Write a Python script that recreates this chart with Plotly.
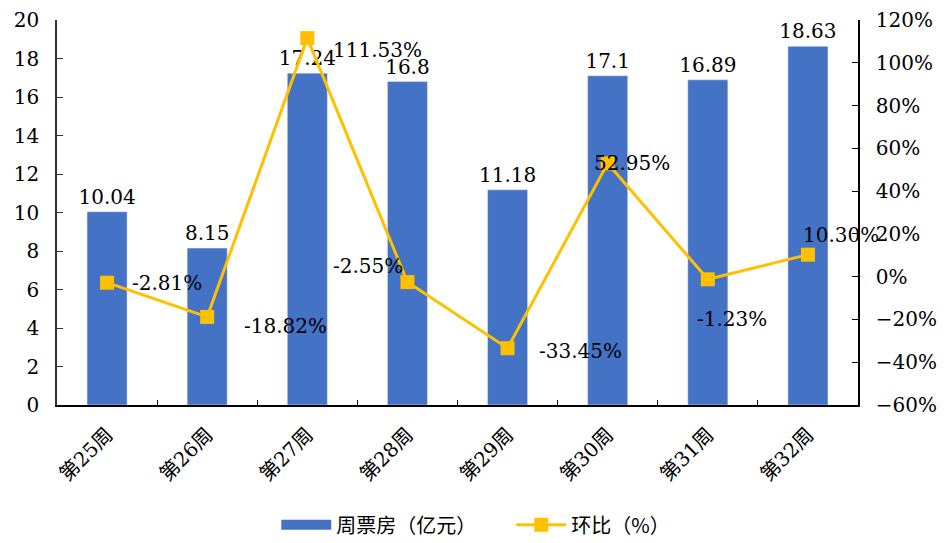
import plotly.graph_objects as go

weeks = ["第25周", "第26周", "第27周", "第28周", "第29周", "第30周", "第31周", "第32周"]
box_office = [10.04, 8.15, 17.24, 16.8, 11.18, 17.1, 16.89, 18.63]
box_labels = ["10.04", "8.15", "17.24", "16.8", "11.18", "17.1", "16.89", "18.63"]
mom = [-2.81, -18.82, 111.53, -2.55, -33.45, 52.95, -1.23, 10.30]
mom_labels = ["-2.81%", "-18.82%", "111.53%", "-2.55%", "-33.45%", "52.95%", "-1.23%", "10.30%"]
label_shift_x = [60, 78, 70, -39, 73, 24, 24, 33]
label_shift_y = [0, -9, -12, 16, -3, 0, -40, 20]

FONT = "DejaVu Serif, Noto Sans CJK SC"
BAR_COLOR = "#4472C4"
LINE_COLOR = "#FFC000"

fig = go.Figure()
fig.add_trace(go.Bar(
    x=weeks, y=box_office, name="周票房（亿元）", showlegend=False,
    legendgroup="bar",
    marker_color=BAR_COLOR, text=box_labels, textposition="outside",
    textfont=dict(size=20, color="#000", family=FONT), cliponaxis=False,
    constraintext="none",
))
# legend entry for the bars (wide rectangle symbol)
fig.add_trace(go.Scatter(
    x=[None], y=[None], name="周票房（亿元）", mode="lines", legendgroup="bar",
    line=dict(color=BAR_COLOR, width=11),
))
fig.add_trace(go.Scatter(
    x=weeks, y=mom, name="环比（%）", yaxis="y2", mode="lines+markers",
    line=dict(color=LINE_COLOR, width=3),
    marker=dict(symbol="square", size=14, color=LINE_COLOR),
))
for w, v, t, dx, dy in zip(weeks, mom, mom_labels, label_shift_x, label_shift_y):
    fig.add_annotation(x=w, y=v, yref="y2", text=t, showarrow=False,
                       xshift=dx, yshift=dy,
                       font=dict(size=20, color="#000", family=FONT))

fig.update_layout(
    width=938, height=535,
    margin=dict(l=49, r=88, t=12, b=138),
    plot_bgcolor="white", paper_bgcolor="white",
    bargap=0.6,
    font=dict(family=FONT, color="#000"),
    showlegend=True,
    legend=dict(orientation="h", xref="container", yref="container",
                x=0.286, xanchor="left", y=0.034, yanchor="middle",
                font=dict(size=20, family="Noto Sans CJK SC"), itemwidth=50,
                entrywidth=170, entrywidthmode="pixels",
                traceorder="normal"),
    xaxis=dict(range=[-0.5, 7.5], showline=True, linecolor="#000", linewidth=2,
               ticks="inside", tickson="boundaries", ticklen=5, tickcolor="#000",
               tickangle=-45,
               tickfont=dict(size=20, family="DejaVu Serif, Noto Sans CJK SC"),
               ticklabelstandoff=8,
               showgrid=False, automargin=False),
    yaxis=dict(range=[0, 20], dtick=2, showline=True, linecolor="#333", linewidth=1.5,
               ticks="inside", ticklen=6, tickcolor="#333", showgrid=False,
               tickfont=dict(size=20), ticklabelstandoff=12,
               zeroline=False, automargin=False),
    yaxis2=dict(range=[-60, 120], dtick=20, overlaying="y", side="right",
                showline=True, linecolor="#000", linewidth=1.5, ticks="inside",
                ticklen=6, tickcolor="#000", ticksuffix="%", showgrid=False,
                tickfont=dict(size=20), ticklabelstandoff=12,
                zeroline=False, automargin=False),
)

fig.write_html("out.html")
